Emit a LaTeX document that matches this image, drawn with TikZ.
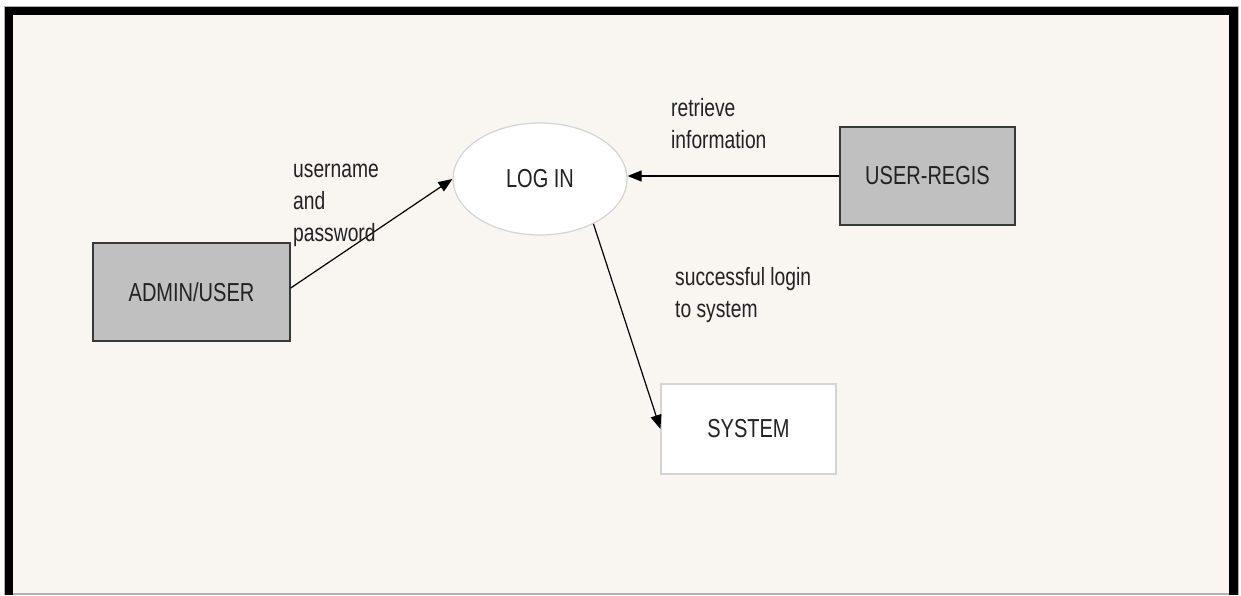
\documentclass[tikz,border=0pt]{standalone}
\usepackage{fontspec}
\setmainfont{Liberation Sans}
\newfontfamily\narrowsans[FakeStretch=0.77]{Liberation Sans}
\usetikzlibrary{shapes.geometric,arrows.meta}
\definecolor{paper}{HTML}{F9F6F1}
\definecolor{boxgray}{HTML}{C0C0C0}
\definecolor{edgedark}{HTML}{383838}
\definecolor{edgelight}{HTML}{D4D4D4}
\definecolor{inkdark}{HTML}{222222}
\tikzset{
  every node/.style={font=\narrowsans\fontsize{26}{32}\selectfont, text=inkdark},
  entity/.style={draw=edgedark, line width=1.4pt, fill=boxgray, inner sep=0pt},
  sysbox/.style={draw=edgelight, line width=1.2pt, fill=white, inner sep=0pt},
  process/.style={ellipse, draw=edgelight, line width=1.2pt, fill=white, inner sep=0pt},
  flowlabel/.style={anchor=base west, align=left, inner sep=0pt,
    font=\narrowsans\fontsize{25}{32}\selectfont},
  flow/.style={draw=black, line width=1.2pt, -{Triangle[length=14pt,width=11pt]}}
}
\begin{document}
\begin{tikzpicture}[x=1pt,y=-1pt]
  % page and frame
  \useasboundingbox (0,0) rectangle (1241,595);
  \fill[white] (0,0) rectangle (1241,595);
  \fill[gray!60] (4,6) rectangle (1239,595);
  \fill[black] (5,7) rectangle (1238,595);
  \fill[gray!60] (13,15) rectangle (1229,595);
  \fill[paper] (13,15) rectangle (1229,592.5);

  % nodes
  \node[entity, minimum width=197pt, minimum height=98pt] (admin) at (191.5,292) {ADMIN/USER};
  \node[process, minimum width=174pt, minimum height=112pt] (login) at (540,179) {LOG IN};
  \node[entity, minimum width=175pt, minimum height=98pt] (regis) at (927.5,176) {USER-REGIS};
  \node[sysbox, minimum width=175pt, minimum height=90pt] (system) at (748.5,429) {SYSTEM};

  % flows
  \draw[flow] ([yshift=4pt]admin.east) -- (login.west);
  \draw[flow] (regis.west) -- (regis.west -| login.east);
  \draw[flow] (login.-40) -- (system.west);

  % flow labels (anchored at the baseline of their last line)
  \node[flowlabel] (lblcred) at (293,241) {username\\and\\password};
  \node[flowlabel] (lblinfo) at (671,148) {retrieve\\information};
  \node[flowlabel] (lblok) at (675,317) {successful login\\to system};
\end{tikzpicture}
\end{document}
